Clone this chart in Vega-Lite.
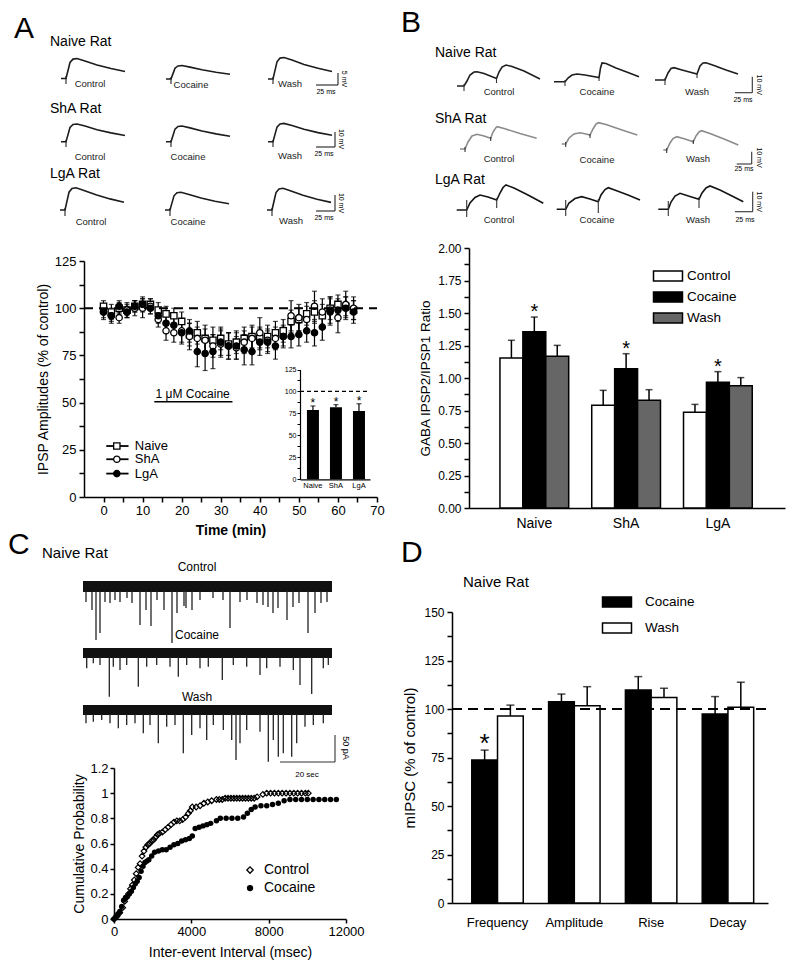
{
"$schema": "https://vega.github.io/schema/vega-lite/v6.json",
"width": 800,
"height": 975,
"padding": 0,
"autosize": {"type": "none"},
"background": "white",
"config": {
 "font": "Liberation Sans",
 "view": {"stroke": null},
 "axis": {"labelFont": "Liberation Sans", "titleFont": "Liberation Sans", "domainColor": "black", "tickColor": "black", "labelColor": "black", "titleColor": "black", "domainWidth": 1.5, "tickWidth": 1.5, "grid": false, "labelFlush": false, "labelOverlap": false, "titleFontWeight": "normal"},
 "legend": {"labelFont": "Liberation Sans", "labelColor": "black"},
 "text": {"font": "Liberation Sans", "color": "black"}
},
"resolve": {"scale": {"x": "independent", "y": "independent", "fill": "independent", "shape": "independent", "color": "independent", "xOffset": "independent"}, "axis": {"x": "independent", "y": "independent"}, "legend": {"fill": "independent", "shape": "independent", "color": "independent"}},
"layer": [
 {
  "encoding": {
   "x": {"field": "x", "type": "quantitative", "scale": {"domain": [1, 400], "range": [1, 400], "nice": false, "zero": false}, "axis": null},
   "y": {"field": "y", "type": "quantitative", "scale": {"domain": [0, 261], "range": [0, 261], "nice": false, "zero": false}, "axis": null}
  },
  "layer": [
   {"data": {"values": [
    {"id":"AN1","x":61,"y":78.5},{"id":"AN1","x":66,"y":78.5},{"id":"AN1","x":68,"y":70.5},{"id":"AN1","x":70,"y":62.5},{"id":"AN1","x":73,"y":59.1},{"id":"AN1","x":77,"y":58.5},{"id":"AN1","x":85,"y":60.9},{"id":"AN1","x":97,"y":64.9},{"id":"AN1","x":111,"y":68.5},{"id":"AN1","x":125,"y":71.5},
    {"id":"AN2","x":166,"y":79},{"id":"AN2","x":171,"y":79},{"id":"AN2","x":173,"y":73.6},{"id":"AN2","x":175,"y":68.2},{"id":"AN2","x":178,"y":65.9},{"id":"AN2","x":182,"y":65.5},{"id":"AN2","x":190,"y":67.1},{"id":"AN2","x":202,"y":69.8},{"id":"AN2","x":216,"y":72.3},{"id":"AN2","x":230,"y":74.3},
    {"id":"AN3","x":268,"y":79},{"id":"AN3","x":273,"y":79},{"id":"AN3","x":275,"y":70.4},{"id":"AN3","x":277,"y":61.8},{"id":"AN3","x":280,"y":58.1},{"id":"AN3","x":284,"y":57.5},{"id":"AN3","x":292,"y":60.1},{"id":"AN3","x":304,"y":64.4},{"id":"AN3","x":318,"y":68.3},{"id":"AN3","x":332,"y":71.5},
    {"id":"AS1","x":61,"y":141.7},{"id":"AS1","x":66,"y":141.7},{"id":"AS1","x":68,"y":134.6},{"id":"AS1","x":70,"y":127.5},{"id":"AS1","x":73,"y":124.5},{"id":"AS1","x":77,"y":124},{"id":"AS1","x":85,"y":126.1},{"id":"AS1","x":97,"y":129.7},{"id":"AS1","x":111,"y":132.9},{"id":"AS1","x":125,"y":135.5},
    {"id":"AS2","x":166,"y":141.7},{"id":"AS2","x":171,"y":141.7},{"id":"AS2","x":173,"y":135.4},{"id":"AS2","x":175,"y":129.1},{"id":"AS2","x":178,"y":126.5},{"id":"AS2","x":182,"y":126},{"id":"AS2","x":190,"y":127.9},{"id":"AS2","x":202,"y":131},{"id":"AS2","x":216,"y":133.9},{"id":"AS2","x":230,"y":136.2},
    {"id":"AS3","x":268,"y":141.7},{"id":"AS3","x":273,"y":141.7},{"id":"AS3","x":275,"y":134.4},{"id":"AS3","x":277,"y":127.1},{"id":"AS3","x":280,"y":123.9},{"id":"AS3","x":284,"y":123.4},{"id":"AS3","x":292,"y":125.6},{"id":"AS3","x":304,"y":129.3},{"id":"AS3","x":318,"y":132.6},{"id":"AS3","x":332,"y":135.3},
    {"id":"AL1","x":60,"y":210},{"id":"AL1","x":65,"y":210},{"id":"AL1","x":67,"y":201.1},{"id":"AL1","x":69,"y":192.2},{"id":"AL1","x":72,"y":188.4},{"id":"AL1","x":76,"y":187.7},{"id":"AL1","x":84,"y":190.4},{"id":"AL1","x":96,"y":194.8},{"id":"AL1","x":110,"y":198.9},{"id":"AL1","x":124,"y":202.2},
    {"id":"AL2","x":165,"y":210},{"id":"AL2","x":170,"y":210},{"id":"AL2","x":172,"y":202.9},{"id":"AL2","x":174,"y":195.8},{"id":"AL2","x":177,"y":192.8},{"id":"AL2","x":181,"y":192.3},{"id":"AL2","x":189,"y":194.4},{"id":"AL2","x":201,"y":198},{"id":"AL2","x":215,"y":201.2},{"id":"AL2","x":229,"y":203.8},
    {"id":"AL3","x":267,"y":210},{"id":"AL3","x":272,"y":210},{"id":"AL3","x":274,"y":201.3},{"id":"AL3","x":276,"y":192.6},{"id":"AL3","x":279,"y":188.9},{"id":"AL3","x":283,"y":188.3},{"id":"AL3","x":291,"y":190.9},{"id":"AL3","x":303,"y":195.2},{"id":"AL3","x":317,"y":199.2},{"id":"AL3","x":331,"y":202.4}
   ]},
   "mark": {"type": "line", "color": "#1c1c1c", "strokeWidth": 1.6},
   "encoding": {"detail": {"field": "id"}}},
   {"data": {"values": [
    {"x":66,"x2":66,"y":76,"y2":84},{"x":171,"x2":171,"y":77,"y2":84},{"x":273,"x2":273,"y":77,"y2":84},
    {"x":66,"x2":66,"y":140,"y2":147},{"x":171,"x2":171,"y":140,"y2":147},{"x":273,"x2":273,"y":140,"y2":147},
    {"x":65,"x2":65,"y":208,"y2":216},{"x":170,"x2":170,"y":208,"y2":216},{"x":272,"x2":272,"y":208,"y2":216},
    {"x":316,"x2":338,"y":85,"y2":85},{"x":338,"x2":338,"y":73,"y2":85},
    {"x":316,"x2":335,"y":147,"y2":147},{"x":335,"x2":335,"y":132,"y2":147},
    {"x":316,"x2":335,"y":211,"y2":211},{"x":335,"x2":335,"y":195,"y2":211}
   ]},
   "mark": {"type": "rule", "color": "#222", "strokeWidth": 1.1},
   "encoding": {"x2": {"field": "x2"}, "y2": {"field": "y2"}}},
   {"data": {"values": [
    {"k":"L","s":"A","x":14,"y":29},
    {"k":"R","s":"Naive Rat","x":50,"y":42},{"k":"R","s":"ShA Rat","x":50,"y":109},{"k":"R","s":"LgA Rat","x":50,"y":174},
    {"k":"C","s":"Control","x":90,"y":84},{"k":"C","s":"Cocaine","x":191,"y":85},{"k":"C","s":"Wash","x":290,"y":84},
    {"k":"C","s":"Control","x":90,"y":157},{"k":"C","s":"Cocaine","x":188,"y":157},{"k":"C","s":"Wash","x":290,"y":156},
    {"k":"C","s":"Control","x":91,"y":222},{"k":"C","s":"Cocaine","x":188,"y":222},{"k":"C","s":"Wash","x":291,"y":221},
    {"k":"H","s":"25 ms","x":326,"y":92},{"k":"H","s":"25 ms","x":324,"y":154},{"k":"H","s":"25 ms","x":324,"y":218},
    {"k":"V","s":"5 mV","x":344,"y":79},{"k":"V","s":"10 mV","x":341,"y":139},{"k":"V","s":"10 mV","x":341,"y":203}
   ]},
   "layer": [
    {"transform": [{"filter": "datum.k==='L'"}], "mark": {"type": "text", "fontSize": 30, "align": "left", "baseline": "middle"}, "encoding": {"text": {"field": "s"}}},
    {"transform": [{"filter": "datum.k==='R'"}], "mark": {"type": "text", "fontSize": 14, "align": "left", "baseline": "middle"}, "encoding": {"text": {"field": "s"}}},
    {"transform": [{"filter": "datum.k==='C'"}], "mark": {"type": "text", "fontSize": 9.5, "baseline": "middle", "color": "#222"}, "encoding": {"text": {"field": "s"}}},
    {"transform": [{"filter": "datum.k==='H'"}], "mark": {"type": "text", "fontSize": 7, "baseline": "middle"}, "encoding": {"text": {"field": "s"}}},
    {"transform": [{"filter": "datum.k==='V'"}], "mark": {"type": "text", "fontSize": 7, "baseline": "middle", "angle": 90}, "encoding": {"text": {"field": "s"}}}
   ]}
  ]
 },
 {
  "encoding": {
   "x": {"field": "x", "type": "quantitative", "scale": {"domain": [1, 400], "range": [401, 800], "nice": false, "zero": false}, "axis": null},
   "y": {"field": "y", "type": "quantitative", "scale": {"domain": [0, 248], "range": [0, 248], "nice": false, "zero": false}, "axis": null}
  },
  "layer": [
   {"data": {"values": [
    {"id":"BN1","r":"N","x":57,"y":86},{"id":"BN1","r":"N","x":64,"y":86},{"id":"BN1","r":"N","x":67,"y":81},{"id":"BN1","r":"N","x":70,"y":75},{"id":"BN1","r":"N","x":74,"y":72},{"id":"BN1","r":"N","x":77,"y":71.7},{"id":"BN1","r":"N","x":84,"y":73.5},{"id":"BN1","r":"N","x":96.5,"y":78.5},{"id":"BN1","r":"N","x":99,"y":72},{"id":"BN1","r":"N","x":102,"y":67},{"id":"BN1","r":"N","x":106,"y":65},{"id":"BN1","r":"N","x":112,"y":66.5},{"id":"BN1","r":"N","x":124,"y":71},{"id":"BN1","r":"N","x":140,"y":79},
    {"id":"BN2","r":"N","x":154,"y":81.7},{"id":"BN2","r":"N","x":165,"y":81.7},{"id":"BN2","r":"N","x":168,"y":78},{"id":"BN2","r":"N","x":172,"y":75},{"id":"BN2","r":"N","x":177,"y":74},{"id":"BN2","r":"N","x":185,"y":75},{"id":"BN2","r":"N","x":199,"y":77.5},{"id":"BN2","r":"N","x":200.5,"y":68},{"id":"BN2","r":"N","x":202,"y":63},{"id":"BN2","r":"N","x":206,"y":63.5},{"id":"BN2","r":"N","x":216,"y":68},{"id":"BN2","r":"N","x":228,"y":72.5},{"id":"BN2","r":"N","x":239,"y":76.7},
    {"id":"BN3","r":"N","x":255,"y":80},{"id":"BN3","r":"N","x":265,"y":80},{"id":"BN3","r":"N","x":268,"y":73},{"id":"BN3","r":"N","x":271,"y":68.5},{"id":"BN3","r":"N","x":274,"y":67.7},{"id":"BN3","r":"N","x":282,"y":70},{"id":"BN3","r":"N","x":297,"y":74},{"id":"BN3","r":"N","x":300,"y":66},{"id":"BN3","r":"N","x":303,"y":63},{"id":"BN3","r":"N","x":306,"y":62.7},{"id":"BN3","r":"N","x":314,"y":65.5},{"id":"BN3","r":"N","x":326,"y":70},{"id":"BN3","r":"N","x":338,"y":74},
    {"id":"BS1","r":"S","x":60,"y":149},{"id":"BS1","r":"S","x":65,"y":149},{"id":"BS1","r":"S","x":68,"y":142},{"id":"BS1","r":"S","x":72,"y":136},{"id":"BS1","r":"S","x":77,"y":134.3},{"id":"BS1","r":"S","x":84,"y":136},{"id":"BS1","r":"S","x":90.7,"y":138.3},{"id":"BS1","r":"S","x":93,"y":132},{"id":"BS1","r":"S","x":96,"y":127.5},{"id":"BS1","r":"S","x":97.3,"y":126.7},{"id":"BS1","r":"S","x":104,"y":128.5},{"id":"BS1","r":"S","x":120,"y":133.5},{"id":"BS1","r":"S","x":136.7,"y":138.3},
    {"id":"BS2","r":"S","x":161.7,"y":144},{"id":"BS2","r":"S","x":165.7,"y":144},{"id":"BS2","r":"S","x":169,"y":138},{"id":"BS2","r":"S","x":174,"y":134},{"id":"BS2","r":"S","x":180,"y":132.7},{"id":"BS2","r":"S","x":186,"y":134},{"id":"BS2","r":"S","x":190,"y":135},{"id":"BS2","r":"S","x":193,"y":129},{"id":"BS2","r":"S","x":196,"y":124},{"id":"BS2","r":"S","x":198.3,"y":122.7},{"id":"BS2","r":"S","x":206,"y":124.5},{"id":"BS2","r":"S","x":222,"y":130},{"id":"BS2","r":"S","x":237.3,"y":135},
    {"id":"BS3","r":"S","x":263.3,"y":150},{"id":"BS3","r":"S","x":266.7,"y":150},{"id":"BS3","r":"S","x":270,"y":143},{"id":"BS3","r":"S","x":273,"y":138.5},{"id":"BS3","r":"S","x":276.7,"y":136.7},{"id":"BS3","r":"S","x":285,"y":139},{"id":"BS3","r":"S","x":293.3,"y":141.7},{"id":"BS3","r":"S","x":296,"y":136},{"id":"BS3","r":"S","x":299,"y":132},{"id":"BS3","r":"S","x":301.7,"y":130.7},{"id":"BS3","r":"S","x":310,"y":133.5},{"id":"BS3","r":"S","x":324,"y":139},{"id":"BS3","r":"S","x":338.3,"y":145},
    {"id":"BL1","r":"L","x":56.7,"y":210},{"id":"BL1","r":"L","x":66.7,"y":210},{"id":"BL1","r":"L","x":70,"y":203},{"id":"BL1","r":"L","x":75,"y":197.5},{"id":"BL1","r":"L","x":80,"y":195},{"id":"BL1","r":"L","x":88,"y":197},{"id":"BL1","r":"L","x":96.7,"y":200},{"id":"BL1","r":"L","x":100,"y":193},{"id":"BL1","r":"L","x":103,"y":187.5},{"id":"BL1","r":"L","x":106,"y":185},{"id":"BL1","r":"L","x":114,"y":188},{"id":"BL1","r":"L","x":128,"y":195},{"id":"BL1","r":"L","x":143.3,"y":203.3},
    {"id":"BL2","r":"L","x":156.7,"y":209.3},{"id":"BL2","r":"L","x":165.7,"y":209.3},{"id":"BL2","r":"L","x":169,"y":203},{"id":"BL2","r":"L","x":175,"y":198.5},{"id":"BL2","r":"L","x":181.7,"y":196.7},{"id":"BL2","r":"L","x":190,"y":199},{"id":"BL2","r":"L","x":198.3,"y":201.7},{"id":"BL2","r":"L","x":201,"y":195},{"id":"BL2","r":"L","x":205,"y":189.5},{"id":"BL2","r":"L","x":208.3,"y":187.7},{"id":"BL2","r":"L","x":216,"y":190.5},{"id":"BL2","r":"L","x":228,"y":195},{"id":"BL2","r":"L","x":240,"y":200},
    {"id":"BL3","r":"L","x":258.3,"y":209.3},{"id":"BL3","r":"L","x":268.3,"y":209.3},{"id":"BL3","r":"L","x":271,"y":202},{"id":"BL3","r":"L","x":275,"y":196},{"id":"BL3","r":"L","x":280,"y":193.3},{"id":"BL3","r":"L","x":290,"y":196.5},{"id":"BL3","r":"L","x":299,"y":199.3},{"id":"BL3","r":"L","x":302,"y":193},{"id":"BL3","r":"L","x":306,"y":188},{"id":"BL3","r":"L","x":310,"y":186},{"id":"BL3","r":"L","x":320,"y":190},{"id":"BL3","r":"L","x":332,"y":196},{"id":"BL3","r":"L","x":343.3,"y":201.7}
   ]},
   "mark": {"type": "line", "strokeWidth": 1.6},
   "encoding": {"detail": {"field": "id"}, "color": {"field": "r", "type": "nominal", "scale": {"domain": ["N", "S", "L"], "range": ["#1e1e1e", "#8c8c8c", "#141414"]}, "legend": null}}},
   {"data": {"values": [
    {"x":64,"x2":64,"y":84,"y2":91},{"x":96.5,"x2":96.5,"y":78,"y2":83},{"x":165,"x2":165,"y":80,"y2":86},{"x":199,"x2":199,"y":77,"y2":81},{"x":265,"x2":265,"y":78,"y2":85},{"x":297,"x2":297,"y":73,"y2":78},
    {"x":65,"x2":65,"y":147,"y2":152},{"x":90.7,"x2":90.7,"y":137,"y2":141},{"x":165.7,"x2":165.7,"y":142,"y2":147},{"x":190,"x2":190,"y":134,"y2":138},{"x":266.7,"x2":266.7,"y":148,"y2":153},{"x":293.3,"x2":293.3,"y":140,"y2":144},
    {"x":66.7,"x2":66.7,"y":200,"y2":217},{"x":96.7,"x2":96.7,"y":198,"y2":208},{"x":165.7,"x2":165.7,"y":200,"y2":216},{"x":198.3,"x2":198.3,"y":199,"y2":213},{"x":268.3,"x2":268.3,"y":201,"y2":216},{"x":299,"x2":299,"y":197,"y2":208},
    {"x":335,"x2":352.3,"y":92.7,"y2":92.7},{"x":352.3,"x2":352.3,"y":76.7,"y2":92.7},
    {"x":336.7,"x2":351.7,"y":164,"y2":164},{"x":351.7,"x2":351.7,"y":151.7,"y2":164},
    {"x":335,"x2":352.7,"y":211.7,"y2":211.7},{"x":352.7,"x2":352.7,"y":191.7,"y2":211.7}
   ]},
   "mark": {"type": "rule", "color": "#333", "strokeWidth": 1.1},
   "encoding": {"x2": {"field": "x2"}, "y2": {"field": "y2"}}},
   {"data": {"values": [
    {"k":"L","s":"B","x":1,"y":23},
    {"k":"R","s":"Naive Rat","x":35,"y":52.7},{"k":"R","s":"ShA Rat","x":35,"y":119},{"k":"R","s":"LgA Rat","x":35,"y":180},
    {"k":"C","s":"Control","x":99,"y":92},{"k":"C","s":"Cocaine","x":197,"y":92},{"k":"C","s":"Wash","x":297,"y":92},
    {"k":"C","s":"Control","x":99,"y":159},{"k":"C","s":"Cocaine","x":197,"y":160},{"k":"C","s":"Wash","x":298,"y":159},
    {"k":"C","s":"Control","x":99,"y":220},{"k":"C","s":"Cocaine","x":197,"y":220},{"k":"C","s":"Wash","x":298,"y":220},
    {"k":"H","s":"25 ms","x":343,"y":99.5},{"k":"H","s":"25 ms","x":344,"y":168.5},{"k":"H","s":"25 ms","x":345,"y":220},
    {"k":"V","s":"10 mV","x":359,"y":84.7},{"k":"V","s":"10 mV","x":359,"y":157.5},{"k":"V","s":"10 mV","x":359,"y":201.7}
   ]},
   "layer": [
    {"transform": [{"filter": "datum.k==='L'"}], "mark": {"type": "text", "fontSize": 30, "align": "left", "baseline": "middle"}, "encoding": {"text": {"field": "s"}}},
    {"transform": [{"filter": "datum.k==='R'"}], "mark": {"type": "text", "fontSize": 14, "align": "left", "baseline": "middle"}, "encoding": {"text": {"field": "s"}}},
    {"transform": [{"filter": "datum.k==='C'"}], "mark": {"type": "text", "fontSize": 9.5, "baseline": "middle", "color": "#222"}, "encoding": {"text": {"field": "s"}}},
    {"transform": [{"filter": "datum.k==='H'"}], "mark": {"type": "text", "fontSize": 7, "baseline": "middle"}, "encoding": {"text": {"field": "s"}}},
    {"transform": [{"filter": "datum.k==='V'"}], "mark": {"type": "text", "fontSize": 7, "baseline": "middle", "angle": 90}, "encoding": {"text": {"field": "s"}}}
   ]}
  ]
 },
 {
  "encoding": {
   "x": {"field": "x", "type": "quantitative", "scale": {"domain": [1, 400], "range": [1, 400], "nice": false, "zero": false}, "axis": null},
   "y": {"field": "y", "type": "quantitative", "scale": {"domain": [0, 271], "range": [497, 768], "nice": false, "zero": false}, "axis": null}
  },
  "layer": [
   {"data": {"values": [{"tr":"Control","x":83,"x2":332,"y":84,"y2":95},{"tr":"Cocaine","x":83,"x2":332,"y":151,"y2":161},{"tr":"Wash","x":83,"x2":332,"y":208,"y2":218}]},
    "mark": {"type": "rect", "color": "#111"}, "encoding": {"x2": {"field": "x2"}, "y2": {"field": "y2"}}},
   {"data": {"values": [
    {"x":86,"y":94,"y2":105},{"x":92,"y":94,"y2":113},{"x":96,"y":94,"y2":143},{"x":100,"y":94,"y2":136},{"x":105,"y":94,"y2":105},{"x":110,"y":94,"y2":106},{"x":115,"y":94,"y2":103},{"x":120,"y":94,"y2":105},{"x":127,"y":94,"y2":101},{"x":132,"y":94,"y2":106},{"x":140,"y":94,"y2":128},{"x":146,"y":94,"y2":113},{"x":151,"y":94,"y2":129},{"x":157,"y":94,"y2":103},{"x":164,"y":94,"y2":113},{"x":172,"y":94,"y2":146},{"x":177,"y":94,"y2":116},{"x":184,"y":94,"y2":109},{"x":186,"y":94,"y2":111},{"x":192,"y":94,"y2":113},{"x":200,"y":94,"y2":103},{"x":213,"y":94,"y2":101},{"x":223,"y":94,"y2":103},{"x":230,"y":94,"y2":131},{"x":240,"y":94,"y2":105},{"x":247,"y":94,"y2":103},{"x":257,"y":94,"y2":106},{"x":263,"y":94,"y2":108},{"x":268,"y":94,"y2":110},{"x":273,"y":94,"y2":116},{"x":278,"y":94,"y2":111},{"x":287,"y":94,"y2":123},{"x":293,"y":94,"y2":110},{"x":299,"y":94,"y2":106},{"x":308,"y":94,"y2":136},{"x":315,"y":94,"y2":116},{"x":321,"y":94,"y2":106},{"x":327,"y":94,"y2":105},
    {"x":86.7,"y":160,"y2":171.3},{"x":93.3,"y":160,"y2":166.3},{"x":100,"y":160,"y2":168},{"x":109.3,"y":160,"y2":199.7},{"x":113.3,"y":160,"y2":169.7},{"x":120,"y":160,"y2":173},{"x":126.7,"y":160,"y2":168},{"x":138.3,"y":160,"y2":189.7},{"x":146.7,"y":160,"y2":169.7},{"x":156.7,"y":160,"y2":168},{"x":170,"y":160,"y2":169.7},{"x":178.3,"y":160,"y2":179.7},{"x":186.7,"y":160,"y2":168},{"x":200,"y":160,"y2":171.3},{"x":208.3,"y":160,"y2":169.7},{"x":222.3,"y":160,"y2":183},{"x":233.3,"y":160,"y2":168},{"x":246.7,"y":160,"y2":169.7},{"x":260,"y":160,"y2":178},{"x":266.7,"y":160,"y2":171.3},{"x":280,"y":160,"y2":169.7},{"x":293.3,"y":160,"y2":173},{"x":300,"y":160,"y2":188},{"x":311.7,"y":160,"y2":197},{"x":323.3,"y":160,"y2":171.3},{"x":328.3,"y":160,"y2":168},
    {"x":86,"y":217,"y2":226.3},{"x":93.3,"y":217,"y2":224.7},{"x":101.7,"y":217,"y2":223},{"x":110,"y":217,"y2":226.3},{"x":118.3,"y":217,"y2":231.3},{"x":126.7,"y":217,"y2":228},{"x":135,"y":217,"y2":226.3},{"x":143.3,"y":217,"y2":236.3},{"x":150,"y":217,"y2":228},{"x":158.3,"y":217,"y2":246.3},{"x":166.7,"y":217,"y2":229.7},{"x":175,"y":217,"y2":228},{"x":183.3,"y":217,"y2":256.3},{"x":191.7,"y":217,"y2":238},{"x":200,"y":217,"y2":231.3},{"x":206.7,"y":217,"y2":243},{"x":213.3,"y":217,"y2":228},{"x":223.3,"y":217,"y2":233},{"x":231.7,"y":217,"y2":243},{"x":236,"y":217,"y2":263},{"x":240,"y":217,"y2":246.3},{"x":246.7,"y":217,"y2":233},{"x":260,"y":217,"y2":234.7},{"x":268.3,"y":217,"y2":264.7},{"x":273.3,"y":217,"y2":243},{"x":278.3,"y":217,"y2":259.7},{"x":283.3,"y":217,"y2":256.3},{"x":291.7,"y":217,"y2":259.7},{"x":296.7,"y":217,"y2":246.3},{"x":305,"y":217,"y2":229.7},{"x":313.3,"y":217,"y2":228},{"x":323.3,"y":217,"y2":226.3}
   ]},
    "mark": {"type": "rule", "color": "#222", "strokeWidth": 1.3}, "encoding": {"y2": {"field": "y2"}}},
   {"data": {"values": [{"x":280,"x2":335,"y":265,"y2":265},{"x":335,"x2":335,"y":238,"y2":265}]},
    "mark": {"type": "rule", "color": "#333", "strokeWidth": 1.1}, "encoding": {"x2": {"field": "x2"}, "y2": {"field": "y2"}}},
   {"data": {"values": [
    {"k":"L","s":"C","x":8,"y":48},{"k":"R","s":"Naive Rat","x":42,"y":56},
    {"k":"C","s":"Control","x":197,"y":69.7},{"k":"C","s":"Cocaine","x":197,"y":138},{"k":"C","s":"Wash","x":197,"y":199.7},
    {"k":"H","s":"20 sec","x":307,"y":278},{"k":"V","s":"50 pA","x":346,"y":251}
   ]},
   "layer": [
    {"transform": [{"filter": "datum.k==='L'"}], "mark": {"type": "text", "fontSize": 30, "align": "left", "baseline": "middle"}, "encoding": {"text": {"field": "s"}}},
    {"transform": [{"filter": "datum.k==='R'"}], "mark": {"type": "text", "fontSize": 15, "align": "left", "baseline": "middle"}, "encoding": {"text": {"field": "s"}}},
    {"transform": [{"filter": "datum.k==='C'"}], "mark": {"type": "text", "fontSize": 12, "baseline": "middle"}, "encoding": {"text": {"field": "s"}}},
    {"transform": [{"filter": "datum.k==='H'"}], "mark": {"type": "text", "fontSize": 8, "baseline": "middle"}, "encoding": {"text": {"field": "s"}}},
    {"transform": [{"filter": "datum.k==='V'"}], "mark": {"type": "text", "fontSize": 9, "baseline": "middle", "angle": 90}, "encoding": {"text": {"field": "s"}}}
   ]}
  ]
 },
 {
  "data": {"values": [{"k":"L","s":"D","x":1,"y":44.5},{"k":"R","s":"Naive Rat","x":63,"y":73.7}]},
  "encoding": {
   "x": {"field": "x", "type": "quantitative", "scale": {"domain": [1, 400], "range": [401, 800], "nice": false, "zero": false}, "axis": null},
   "y": {"field": "y", "type": "quantitative", "scale": {"domain": [0, 104], "range": [508, 612], "nice": false, "zero": false}, "axis": null},
   "text": {"field": "s"}
  },
  "layer": [
   {"transform": [{"filter": "datum.k==='L'"}], "mark": {"type": "text", "fontSize": 30, "align": "left", "baseline": "middle"}},
   {"transform": [{"filter": "datum.k==='R'"}], "mark": {"type": "text", "fontSize": 15, "align": "left", "baseline": "middle"}}
  ]
 },
 {
  "data": {"values": [
   {"t":0,"s":"Naive","v":101,"e":3},{"t":0,"s":"ShA","v":98,"e":4},{"t":0,"s":"LgA","v":98,"e":3},
   {"t":2,"s":"Naive","v":98,"e":4},{"t":2,"s":"ShA","v":96,"e":4},{"t":2,"s":"LgA","v":96,"e":3},
   {"t":4,"s":"Naive","v":100,"e":3},{"t":4,"s":"ShA","v":95,"e":3},{"t":4,"s":"LgA","v":101,"e":3},
   {"t":6,"s":"Naive","v":99,"e":3},{"t":6,"s":"ShA","v":99,"e":4},{"t":6,"s":"LgA","v":98,"e":3},
   {"t":8,"s":"Naive","v":101,"e":3},{"t":8,"s":"ShA","v":100,"e":4},{"t":8,"s":"LgA","v":101,"e":3},
   {"t":10,"s":"Naive","v":102,"e":3},{"t":10,"s":"ShA","v":100,"e":5},{"t":10,"s":"LgA","v":102,"e":4},
   {"t":12,"s":"Naive","v":102,"e":3},{"t":12,"s":"ShA","v":101,"e":4},{"t":12,"s":"LgA","v":100,"e":3},
   {"t":14,"s":"Naive","v":99,"e":4},{"t":14,"s":"ShA","v":94,"e":4},{"t":14,"s":"LgA","v":96,"e":4},
   {"t":16,"s":"Naive","v":97,"e":4},{"t":16,"s":"ShA","v":88,"e":5},{"t":16,"s":"LgA","v":92,"e":5},
   {"t":18,"s":"Naive","v":96,"e":4},{"t":18,"s":"ShA","v":87,"e":5},{"t":18,"s":"LgA","v":91,"e":5},
   {"t":20,"s":"Naive","v":93,"e":5},{"t":20,"s":"ShA","v":88,"e":6},{"t":20,"s":"LgA","v":87,"e":6},
   {"t":22,"s":"Naive","v":86,"e":6},{"t":22,"s":"ShA","v":85,"e":7},{"t":22,"s":"LgA","v":88,"e":6},
   {"t":24,"s":"Naive","v":87,"e":6},{"t":24,"s":"ShA","v":84,"e":6},{"t":24,"s":"LgA","v":77,"e":8},
   {"t":26,"s":"Naive","v":84,"e":7},{"t":26,"s":"ShA","v":83,"e":6},{"t":26,"s":"LgA","v":76,"e":9},
   {"t":28,"s":"Naive","v":83,"e":7},{"t":28,"s":"ShA","v":80,"e":6},{"t":28,"s":"LgA","v":77,"e":9},
   {"t":30,"s":"Naive","v":84,"e":6},{"t":30,"s":"ShA","v":81,"e":7},{"t":30,"s":"LgA","v":82,"e":7},
   {"t":32,"s":"Naive","v":81,"e":6},{"t":32,"s":"ShA","v":80,"e":7},{"t":32,"s":"LgA","v":80,"e":7},
   {"t":34,"s":"Naive","v":82,"e":6},{"t":34,"s":"ShA","v":79,"e":6},{"t":34,"s":"LgA","v":80,"e":7},
   {"t":36,"s":"Naive","v":84,"e":6},{"t":36,"s":"ShA","v":82,"e":6},{"t":36,"s":"LgA","v":78,"e":8},
   {"t":38,"s":"Naive","v":85,"e":6},{"t":38,"s":"ShA","v":84,"e":6},{"t":38,"s":"LgA","v":77,"e":7},
   {"t":40,"s":"Naive","v":84,"e":6},{"t":40,"s":"ShA","v":87,"e":8},{"t":40,"s":"LgA","v":82,"e":7},
   {"t":42,"s":"Naive","v":85,"e":6},{"t":42,"s":"ShA","v":83,"e":6},{"t":42,"s":"LgA","v":82,"e":6},
   {"t":44,"s":"Naive","v":87,"e":6},{"t":44,"s":"ShA","v":84,"e":6},{"t":44,"s":"LgA","v":80,"e":7},
   {"t":46,"s":"Naive","v":88,"e":6},{"t":46,"s":"ShA","v":85,"e":6},{"t":46,"s":"LgA","v":85,"e":5},
   {"t":48,"s":"Naive","v":93,"e":6},{"t":48,"s":"ShA","v":96,"e":8},{"t":48,"s":"LgA","v":85,"e":6},
   {"t":50,"s":"Naive","v":94,"e":6},{"t":50,"s":"ShA","v":95,"e":7},{"t":50,"s":"LgA","v":86,"e":6},
   {"t":52,"s":"Naive","v":97,"e":6},{"t":52,"s":"ShA","v":94,"e":7},{"t":52,"s":"LgA","v":88,"e":6},
   {"t":54,"s":"Naive","v":98,"e":6},{"t":54,"s":"ShA","v":101,"e":8},{"t":54,"s":"LgA","v":87,"e":7},
   {"t":56,"s":"Naive","v":96,"e":6},{"t":56,"s":"ShA","v":98,"e":7},{"t":56,"s":"LgA","v":90,"e":7},
   {"t":58,"s":"Naive","v":100,"e":6},{"t":58,"s":"ShA","v":99,"e":7},{"t":58,"s":"LgA","v":98,"e":7},
   {"t":60,"s":"Naive","v":102,"e":5},{"t":60,"s":"ShA","v":95,"e":8},{"t":60,"s":"LgA","v":99,"e":6},
   {"t":62,"s":"Naive","v":101,"e":5},{"t":62,"s":"ShA","v":102,"e":7},{"t":62,"s":"LgA","v":100,"e":6},
   {"t":64,"s":"Naive","v":99,"e":5},{"t":64,"s":"ShA","v":100,"e":6},{"t":64,"s":"LgA","v":98,"e":6}
  ]},
  "encoding": {
   "x": {"field": "t", "type": "quantitative", "scale": {"domain": [-5, 70], "range": [84, 377], "nice": false, "zero": false},
    "axis": {"orient": "bottom", "offset": -478, "title": "Time (min)", "titleFontSize": 14, "titleFontWeight": "bold", "titlePadding": 6, "values": [0,5,10,15,20,25,30,35,40,45,50,55,60,65,70], "labelExpr": "datum.value % 10 === 0 ? datum.label : ''", "labelFontSize": 13, "tickSize": 5, "labelPadding": 2}},
   "y": {"field": "v", "type": "quantitative", "scale": {"domain": [0, 125], "range": [497, 261], "nice": false},
    "axis": {"orient": "left", "offset": -84, "title": "IPSP Amplitudes (% of control)", "titleFontSize": 14, "titlePadding": 4, "values": [0,12.5,25,37.5,50,62.5,75,87.5,100,112.5,125], "labelExpr": "datum.value % 25 === 0 ? datum.label : ''", "labelFontSize": 13, "tickSize": 5, "labelPadding": 3}}
  },
  "layer": [
   {"mark": {"type": "errorbar", "color": "black", "ticks": {"size": 5, "thickness": 1.2, "color": "black"}, "rule": {"strokeWidth": 1.2}}, "encoding": {"yError": {"field": "e"}}},
   {"mark": {"type": "point", "size": 40, "stroke": "black", "strokeWidth": 1.3, "opacity": 1, "filled": true},
    "encoding": {"shape": {"field": "s", "type": "nominal", "scale": {"domain": ["Naive", "ShA", "LgA"], "range": ["square", "circle", "circle"]}, "legend": null},
                 "fill": {"field": "s", "type": "nominal", "scale": {"domain": ["Naive", "ShA", "LgA"], "range": ["white", "white", "black"]}, "legend": null}}}
  ]
 },
 {
  "data": {"values": [{}]},
  "mark": {"type": "rule", "strokeDash": [9, 6], "strokeWidth": 2, "color": "black"},
  "encoding": {
   "x": {"datum": -5, "type": "quantitative", "scale": {"domain": [-5, 70], "range": [84, 377], "nice": false, "zero": false}, "axis": null},
   "x2": {"datum": 70},
   "y": {"datum": 100, "type": "quantitative", "scale": {"domain": [0, 125], "range": [497, 261], "nice": false}, "axis": null}
  }
 },
 {
  "data": {"values": [{}]},
  "mark": {"type": "rule", "strokeWidth": 1.5, "color": "black"},
  "encoding": {
   "x": {"datum": 13, "type": "quantitative", "scale": {"domain": [-5, 70], "range": [84, 377], "nice": false, "zero": false}, "axis": null},
   "x2": {"datum": 33},
   "y": {"datum": 50.5, "type": "quantitative", "scale": {"domain": [0, 125], "range": [497, 261], "nice": false}, "axis": null}
  }
 },
 {
  "data": {"values": [{}]},
  "mark": {"type": "text", "text": "1 μM Cocaine", "fontSize": 12, "baseline": "middle"},
  "encoding": {
   "x": {"datum": 22.8, "type": "quantitative", "scale": {"domain": [-5, 70], "range": [84, 377], "nice": false, "zero": false}, "axis": null},
   "y": {"datum": 54.5, "type": "quantitative", "scale": {"domain": [0, 125], "range": [497, 261], "nice": false}, "axis": null}
  }
 },
 {
  "data": {"values": [{"s":"Naive","v":27},{"s":"ShA","v":20},{"s":"LgA","v":12.4}]},
  "mark": {"type": "rule", "strokeWidth": 1.8, "color": "black"},
  "encoding": {
   "x": {"datum": 0.7, "type": "quantitative", "scale": {"domain": [-5, 70], "range": [84, 377], "nice": false, "zero": false}, "axis": null},
   "x2": {"datum": 6.4},
   "y": {"field": "v", "type": "quantitative", "scale": {"domain": [0, 125], "range": [497, 261], "nice": false}, "axis": null}
  }
 },
 {
  "data": {"values": [{"s":"Naive","v":27},{"s":"ShA","v":20},{"s":"LgA","v":12.4}]},
  "mark": {"type": "point", "size": 40, "stroke": "black", "strokeWidth": 1.3, "opacity": 1, "filled": true},
  "encoding": {
   "x": {"datum": 3.4, "type": "quantitative", "scale": {"domain": [-5, 70], "range": [84, 377], "nice": false, "zero": false}, "axis": null},
   "y": {"field": "v", "type": "quantitative", "scale": {"domain": [0, 125], "range": [497, 261], "nice": false}, "axis": null},
   "shape": {"field": "s", "type": "nominal", "scale": {"domain": ["Naive", "ShA", "LgA"], "range": ["square", "circle", "circle"]}, "legend": null},
   "fill": {"field": "s", "type": "nominal", "scale": {"domain": ["Naive", "ShA", "LgA"], "range": ["white", "white", "black"]}, "legend": null}
  }
 },
 {
  "data": {"values": [{"s":"Naive","v":27},{"s":"ShA","v":20},{"s":"LgA","v":12.4}]},
  "mark": {"type": "text", "fontSize": 13, "align": "left", "baseline": "middle", "dx": 18},
  "encoding": {
   "x": {"datum": 3.4, "type": "quantitative", "scale": {"domain": [-5, 70], "range": [84, 377], "nice": false, "zero": false}, "axis": null},
   "y": {"field": "v", "type": "quantitative", "scale": {"domain": [0, 125], "range": [497, 261], "nice": false}, "axis": null},
   "text": {"field": "s"}
  }
 },
 {
  "data": {"values": [{"g":"Naive","v":78.8,"hi":83.5},{"g":"ShA","v":81.9,"hi":85},{"g":"LgA","v":77.7,"hi":86}]},
  "encoding": {
   "x": {"field": "g", "type": "nominal", "sort": ["Naive", "ShA", "LgA"], "scale": {"range": [300, 370], "paddingInner": 0.478, "paddingOuter": 0.26, "align": 0.58},
    "axis": {"orient": "bottom", "offset": -495.7, "title": null, "labelAngle": 0, "labelFontSize": 7.5, "ticks": false, "labelPadding": 2, "domainWidth": 1.2}},
   "y": {"field": "v", "type": "quantitative", "scale": {"domain": [0, 125], "range": [479.3, 369.5], "nice": false},
    "axis": {"orient": "left", "offset": -300, "title": null, "values": [0,12.5,25,37.5,50,62.5,75,87.5,100,112.5,125], "labelExpr": "datum.value % 25 === 0 ? datum.label : ''", "labelFontSize": 7, "tickSize": 3, "tickWidth": 1, "domainWidth": 1.2, "labelPadding": 1}}
  },
  "layer": [
   {"mark": {"type": "bar", "color": "black"}},
   {"mark": {"type": "rule", "color": "black", "strokeWidth": 1.2}, "encoding": {"y2": {"field": "hi"}}},
   {"mark": {"type": "tick", "color": "black", "thickness": 1.2, "size": 5}, "encoding": {"y": {"field": "hi", "type": "quantitative"}}},
   {"mark": {"type": "text", "text": "*", "fontSize": 12, "baseline": "alphabetic", "dy": 1}, "encoding": {"y": {"field": "hi", "type": "quantitative"}}}
  ]
 },
 {
  "data": {"values": [{}]},
  "mark": {"type": "rule", "strokeDash": [4, 3], "strokeWidth": 1.3, "color": "black"},
  "encoding": {
   "x": {"datum": 0, "type": "quantitative", "scale": {"domain": [0, 1], "range": [300, 368], "nice": false}, "axis": null},
   "x2": {"datum": 1},
   "y": {"datum": 100, "type": "quantitative", "scale": {"domain": [0, 125], "range": [479.3, 369.5], "nice": false}, "axis": null}
  }
 },
 {
  "data": {"values": [
   {"g":"Naive","c":"Control","v":1.154,"hi":1.29},{"g":"Naive","c":"Cocaine","v":1.356,"hi":1.469},{"g":"Naive","c":"Wash","v":1.167,"hi":1.251},
   {"g":"ShA","c":"Control","v":0.79,"hi":0.905},{"g":"ShA","c":"Cocaine","v":1.072,"hi":1.187},{"g":"ShA","c":"Wash","v":0.828,"hi":0.91},
   {"g":"LgA","c":"Control","v":0.736,"hi":0.797},{"g":"LgA","c":"Cocaine","v":0.967,"hi":1.049},{"g":"LgA","c":"Wash","v":0.941,"hi":1.003}
  ]},
  "encoding": {
   "x": {"field": "g", "type": "nominal", "sort": ["Naive", "ShA", "LgA"], "scale": {"range": [469, 785], "paddingInner": 0.251, "paddingOuter": 0.347, "align": 0.486},
    "axis": {"orient": "bottom", "offset": -467, "title": null, "labelAngle": 0, "labelFontSize": 14, "ticks": false, "labelPadding": 8}},
   "xOffset": {"field": "c", "type": "nominal", "sort": ["Control", "Cocaine", "Wash"], "scale": {"paddingInner": 0, "paddingOuter": 0}},
   "y": {"field": "v", "type": "quantitative", "scale": {"domain": [0, 2], "range": [508, 248], "nice": false},
    "axis": {"orient": "left", "offset": -469, "title": "GABA IPSP2/IPSP1 Ratio", "titleFontSize": 13.5, "titlePadding": 5, "values": [0,0.125,0.25,0.375,0.5,0.625,0.75,0.875,1,1.125,1.25,1.375,1.5,1.625,1.75,1.875,2], "labelExpr": "round(datum.value*8) % 2 === 0 ? format(datum.value, '.2f') : ''", "labelFontSize": 12, "tickSize": 5, "labelPadding": 3}}
  },
  "layer": [
   {"mark": {"type": "bar", "stroke": "black", "strokeWidth": 1.5},
    "encoding": {"fill": {"field": "c", "type": "nominal", "sort": ["Control", "Cocaine", "Wash"], "scale": {"domain": ["Control", "Cocaine", "Wash"], "range": ["white", "black", "#666666"]},
     "legend": {"orient": "none", "legendX": 660, "legendY": 268, "title": null, "symbolType": "M-2,-0.7H2V0.7H-2Z", "symbolSize": 210, "symbolStrokeColor": "black", "symbolStrokeWidth": 1.5, "symbolOpacity": 1, "labelFontSize": 13.5, "labelOffset": 11, "rowPadding": 3}}}},
   {"mark": {"type": "rule", "color": "black", "strokeWidth": 1.5}, "encoding": {"y2": {"field": "hi"}}},
   {"mark": {"type": "tick", "color": "black", "thickness": 1.5, "size": 7}, "encoding": {"y": {"field": "hi", "type": "quantitative"}}},
   {"transform": [{"filter": "datum.c === 'Cocaine'"}], "mark": {"type": "text", "text": "*", "fontSize": 20, "baseline": "alphabetic", "dy": 1}, "encoding": {"y": {"field": "hi", "type": "quantitative"}}}
  ]
 },
 {
  "data": {"values": [
   {"c":"Cocaine","ms":0,"p":0},{"c":"Cocaine","ms":100,"p":0.02},{"c":"Cocaine","ms":200,"p":0.04},{"c":"Cocaine","ms":300,"p":0.06},{"c":"Cocaine","ms":400,"p":0.1},{"c":"Cocaine","ms":500,"p":0.15},{"c":"Cocaine","ms":600,"p":0.17},{"c":"Cocaine","ms":700,"p":0.18},{"c":"Cocaine","ms":800,"p":0.2},{"c":"Cocaine","ms":900,"p":0.22},{"c":"Cocaine","ms":1000,"p":0.25},{"c":"Cocaine","ms":1100,"p":0.28},{"c":"Cocaine","ms":1200,"p":0.3},{"c":"Cocaine","ms":1300,"p":0.33},{"c":"Cocaine","ms":1400,"p":0.38},{"c":"Cocaine","ms":1500,"p":0.42},{"c":"Cocaine","ms":1600,"p":0.45},{"c":"Cocaine","ms":1700,"p":0.46},{"c":"Cocaine","ms":1800,"p":0.47},{"c":"Cocaine","ms":1950,"p":0.5},{"c":"Cocaine","ms":2100,"p":0.53},{"c":"Cocaine","ms":2300,"p":0.54},{"c":"Cocaine","ms":2500,"p":0.55},{"c":"Cocaine","ms":2700,"p":0.55},{"c":"Cocaine","ms":2900,"p":0.57},{"c":"Cocaine","ms":3100,"p":0.59},{"c":"Cocaine","ms":3300,"p":0.6},{"c":"Cocaine","ms":3500,"p":0.62},{"c":"Cocaine","ms":3700,"p":0.63},{"c":"Cocaine","ms":3900,"p":0.64},{"c":"Cocaine","ms":4050,"p":0.66},{"c":"Cocaine","ms":4200,"p":0.72},{"c":"Cocaine","ms":4400,"p":0.73},{"c":"Cocaine","ms":4600,"p":0.74},{"c":"Cocaine","ms":4800,"p":0.75},{"c":"Cocaine","ms":5000,"p":0.76},{"c":"Cocaine","ms":5300,"p":0.78},{"c":"Cocaine","ms":5500,"p":0.8},{"c":"Cocaine","ms":5800,"p":0.8},{"c":"Cocaine","ms":6100,"p":0.8},{"c":"Cocaine","ms":6400,"p":0.8},{"c":"Cocaine","ms":6700,"p":0.81},{"c":"Cocaine","ms":6900,"p":0.84},{"c":"Cocaine","ms":7100,"p":0.87},{"c":"Cocaine","ms":7300,"p":0.89},{"c":"Cocaine","ms":7600,"p":0.9},{"c":"Cocaine","ms":7900,"p":0.9},{"c":"Cocaine","ms":8200,"p":0.91},{"c":"Cocaine","ms":8500,"p":0.92},{"c":"Cocaine","ms":8800,"p":0.94},{"c":"Cocaine","ms":9100,"p":0.95},{"c":"Cocaine","ms":9400,"p":0.95},{"c":"Cocaine","ms":9700,"p":0.95},{"c":"Cocaine","ms":10000,"p":0.95},{"c":"Cocaine","ms":10300,"p":0.95},{"c":"Cocaine","ms":10600,"p":0.95},{"c":"Cocaine","ms":10900,"p":0.95},{"c":"Cocaine","ms":11200,"p":0.95},{"c":"Cocaine","ms":11500,"p":0.95},
   {"c":"Control","ms":0,"p":0},{"c":"Control","ms":150,"p":0.02},{"c":"Control","ms":300,"p":0.05},{"c":"Control","ms":450,"p":0.09},{"c":"Control","ms":550,"p":0.14},{"c":"Control","ms":650,"p":0.17},{"c":"Control","ms":750,"p":0.2},{"c":"Control","ms":850,"p":0.24},{"c":"Control","ms":950,"p":0.27},{"c":"Control","ms":1050,"p":0.31},{"c":"Control","ms":1150,"p":0.36},{"c":"Control","ms":1250,"p":0.41},{"c":"Control","ms":1350,"p":0.44},{"c":"Control","ms":1450,"p":0.5},{"c":"Control","ms":1550,"p":0.54},{"c":"Control","ms":1650,"p":0.57},{"c":"Control","ms":1750,"p":0.59},{"c":"Control","ms":1850,"p":0.6},{"c":"Control","ms":1950,"p":0.62},{"c":"Control","ms":2050,"p":0.63},{"c":"Control","ms":2150,"p":0.65},{"c":"Control","ms":2250,"p":0.67},{"c":"Control","ms":2350,"p":0.68},{"c":"Control","ms":2500,"p":0.69},{"c":"Control","ms":2650,"p":0.71},{"c":"Control","ms":2800,"p":0.73},{"c":"Control","ms":2950,"p":0.75},{"c":"Control","ms":3100,"p":0.77},{"c":"Control","ms":3250,"p":0.78},{"c":"Control","ms":3400,"p":0.78},{"c":"Control","ms":3550,"p":0.79},{"c":"Control","ms":3700,"p":0.81},{"c":"Control","ms":3850,"p":0.84},{"c":"Control","ms":3950,"p":0.86},{"c":"Control","ms":4050,"p":0.89},{"c":"Control","ms":4250,"p":0.89},{"c":"Control","ms":4450,"p":0.9},{"c":"Control","ms":4650,"p":0.92},{"c":"Control","ms":4850,"p":0.93},{"c":"Control","ms":5050,"p":0.94},{"c":"Control","ms":5300,"p":0.95},{"c":"Control","ms":5450,"p":0.95},{"c":"Control","ms":5600,"p":0.95},{"c":"Control","ms":5750,"p":0.96},{"c":"Control","ms":5900,"p":0.96},{"c":"Control","ms":6050,"p":0.96},{"c":"Control","ms":6200,"p":0.96},{"c":"Control","ms":6350,"p":0.96},{"c":"Control","ms":6500,"p":0.96},{"c":"Control","ms":6650,"p":0.96},{"c":"Control","ms":6800,"p":0.96},{"c":"Control","ms":6950,"p":0.96},{"c":"Control","ms":7100,"p":0.96},{"c":"Control","ms":7250,"p":0.96},{"c":"Control","ms":7400,"p":0.97},{"c":"Control","ms":7700,"p":0.99},{"c":"Control","ms":7900,"p":1},{"c":"Control","ms":8100,"p":1},{"c":"Control","ms":8300,"p":1},{"c":"Control","ms":8500,"p":1},{"c":"Control","ms":8700,"p":1},{"c":"Control","ms":8900,"p":1},{"c":"Control","ms":9100,"p":1},{"c":"Control","ms":9300,"p":1},{"c":"Control","ms":9500,"p":1},{"c":"Control","ms":9700,"p":1},{"c":"Control","ms":9900,"p":1},{"c":"Control","ms":10050,"p":1}
  ]},
  "encoding": {
   "x": {"field": "ms", "type": "quantitative", "scale": {"domain": [0, 12000], "range": [114, 346], "nice": false},
    "axis": {"orient": "bottom", "offset": -56, "title": "Inter-event Interval (msec)", "titleFontSize": 14, "titlePadding": 7, "values": [0, 4000, 8000, 12000], "format": "d", "labelFontSize": 13, "tickSize": 4, "labelPadding": 2}},
   "y": {"field": "p", "type": "quantitative", "scale": {"domain": [0, 1.2], "range": [919, 768], "nice": false},
    "axis": {"orient": "left", "offset": -114, "title": "Cumulative Probability", "titleFontSize": 14, "titlePadding": 3, "values": [0, 0.2, 0.4, 0.6, 0.8, 1, 1.2], "format": "~g", "labelFontSize": 13, "tickSize": 4, "labelPadding": 2}}
  },
  "layer": [
   {"transform": [{"filter": "datum.c === 'Cocaine'"}], "mark": {"type": "circle", "size": 30, "color": "black", "opacity": 1}},
   {"transform": [{"filter": "datum.c === 'Control'"}], "mark": {"type": "point", "shape": "diamond", "size": 32, "filled": false, "stroke": "black", "strokeWidth": 1.2, "opacity": 1}},
   {"data": {"values": [{"c":"Control","ms":7035,"p":0.389},{"c":"Cocaine","ms":7035,"p":0.246}]},
    "layer": [
     {"transform": [{"filter": "datum.c === 'Cocaine'"}], "mark": {"type": "circle", "size": 40, "color": "black", "opacity": 1}},
     {"transform": [{"filter": "datum.c === 'Control'"}], "mark": {"type": "point", "shape": "diamond", "size": 40, "filled": false, "stroke": "black", "strokeWidth": 1.3, "opacity": 1}},
     {"mark": {"type": "text", "fontSize": 14, "align": "left", "baseline": "middle", "dx": 14}, "encoding": {"text": {"field": "c"}}}
    ]}
  ]
 },
 {
  "data": {"values": [
   {"g":"Frequency","c":"Cocaine","v":73.7,"hi":78.8},{"g":"Frequency","c":"Wash","v":96.4,"hi":102},
   {"g":"Amplitude","c":"Cocaine","v":103.8,"hi":107.7},{"g":"Amplitude","c":"Wash","v":101.7,"hi":111.5},
   {"g":"Rise","c":"Cocaine","v":109.8,"hi":116.7},{"g":"Rise","c":"Wash","v":105.9,"hi":110.7},
   {"g":"Decay","c":"Cocaine","v":97.4,"hi":106.4},{"g":"Decay","c":"Wash","v":100.9,"hi":113.8}
  ]},
  "encoding": {
   "x": {"field": "g", "type": "nominal", "sort": ["Frequency", "Amplitude", "Rise", "Decay"], "scale": {"range": [452, 768], "paddingInner": 0.33, "paddingOuter": 0.222, "align": 0.58},
    "axis": {"orient": "bottom", "offset": -72, "title": null, "labelAngle": 0, "labelFontSize": 13, "ticks": false, "labelPadding": 13}},
   "xOffset": {"field": "c", "type": "nominal", "sort": ["Cocaine", "Wash"], "scale": {"paddingInner": 0, "paddingOuter": 0}},
   "y": {"field": "v", "type": "quantitative", "scale": {"domain": [0, 150], "range": [903, 612], "nice": false},
    "axis": {"orient": "left", "offset": -452, "title": "mIPSC (% of control)", "titleFontSize": 15, "titlePadding": 6, "values": [0,12.5,25,37.5,50,62.5,75,87.5,100,112.5,125,137.5,150], "labelExpr": "datum.value % 25 === 0 ? datum.label : ''", "labelFontSize": 12, "tickSize": 5, "labelPadding": 3}}
  },
  "layer": [
   {"mark": {"type": "bar", "stroke": "black", "strokeWidth": 1.5},
    "encoding": {"fill": {"field": "c", "type": "nominal", "sort": ["Cocaine", "Wash"], "scale": {"domain": ["Cocaine", "Wash"], "range": ["black", "white"]},
     "legend": {"orient": "none", "legendX": 609, "legendY": 594, "title": null, "symbolType": "M-2,-0.7H2V0.7H-2Z", "symbolSize": 210, "symbolStrokeColor": "black", "symbolStrokeWidth": 1.5, "symbolOpacity": 1, "labelFontSize": 13.5, "labelOffset": 20, "rowPadding": 8}}}},
   {"mark": {"type": "rule", "color": "black", "strokeWidth": 1.5}, "encoding": {"y2": {"field": "hi"}}},
   {"mark": {"type": "tick", "color": "black", "thickness": 1.5, "size": 8}, "encoding": {"y": {"field": "hi", "type": "quantitative"}}},
   {"transform": [{"filter": "datum.g === 'Frequency' && datum.c === 'Cocaine'"}], "mark": {"type": "text", "text": "*", "fontSize": 26, "baseline": "alphabetic", "dy": 2}, "encoding": {"y": {"field": "hi", "type": "quantitative"}}}
  ]
 },
 {
  "data": {"values": [{}]},
  "mark": {"type": "rule", "strokeDash": [10, 6], "strokeWidth": 2, "color": "black"},
  "encoding": {
   "x": {"datum": 0, "type": "quantitative", "scale": {"domain": [0, 1], "range": [452, 768], "nice": false}, "axis": null},
   "x2": {"datum": 1},
   "y": {"datum": 100, "type": "quantitative", "scale": {"domain": [0, 150], "range": [903, 612], "nice": false}, "axis": null}
  }
 }
]
}
